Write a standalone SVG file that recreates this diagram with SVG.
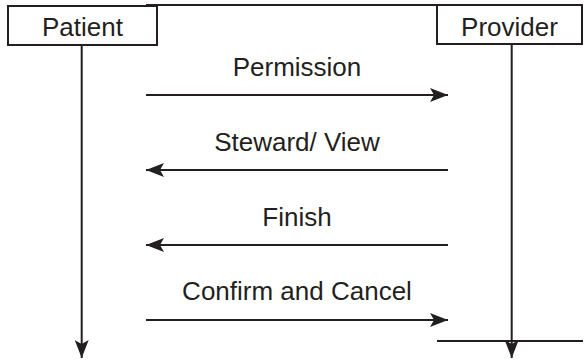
<svg xmlns="http://www.w3.org/2000/svg" width="584" height="361" viewBox="0 0 584 361">
  <style>
    .box { fill: #fff; stroke: #231f20; stroke-width: 2; }
    .line { stroke: #231f20; stroke-width: 2; fill: none; }
    .lbl { font-family: "Liberation Sans", Arial, Helvetica, sans-serif; font-size: 26px; fill: #231f20; text-anchor: middle; }
  </style>
  <defs>
    <marker id="head" viewBox="0 0 18 14" refX="18" refY="7" markerWidth="18" markerHeight="14" markerUnits="userSpaceOnUse" orient="auto">
      <path d="M0,0 L18,7 L0,14 L4,7 Z" fill="#231f20"/>
    </marker>
  </defs>
  <rect width="584" height="361" fill="#fff"/>

  <g id="connectors">
    <!-- frame rule along the top -->
    <line class="line" x1="146" y1="5" x2="437" y2="5"/>
    <!-- lifelines -->
    <line class="line" x1="81.7" y1="45" x2="81.7" y2="358" marker-end="url(#head)"/>
    <line class="line" x1="511.7" y1="44" x2="511.7" y2="358" marker-end="url(#head)"/>
    <line class="line" x1="437" y1="341" x2="583" y2="341"/>
    <!-- messages -->
    <line class="line" x1="146" y1="95" x2="448" y2="95" marker-end="url(#head)"/>
    <line class="line" x1="448" y1="170" x2="146" y2="170" marker-end="url(#head)"/>
    <line class="line" x1="448" y1="245" x2="146" y2="245" marker-end="url(#head)"/>
    <line class="line" x1="146" y1="320" x2="448" y2="320" marker-end="url(#head)"/>
    <text class="lbl" x="297" y="76">Permission</text>
    <text class="lbl" x="297" y="151">Steward/ View</text>
    <text class="lbl" x="297" y="226">Finish</text>
    <text class="lbl" x="297" y="300">Confirm and Cancel</text>
  </g>

  <g id="patient">
    <rect class="box" x="8" y="6" width="149" height="39"/>
    <text class="lbl" x="82.5" y="36">Patient</text>
  </g>

  <g id="provider">
    <rect class="box" x="437" y="5" width="145" height="39"/>
    <text class="lbl" x="509.5" y="36">Provider</text>
  </g>
</svg>
